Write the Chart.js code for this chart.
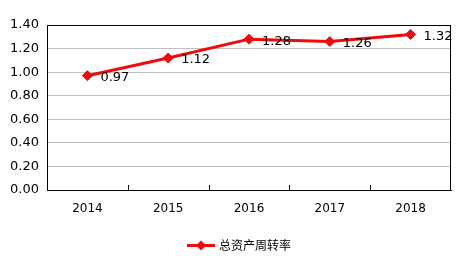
<!DOCTYPE html>
<html><head><meta charset="utf-8">
<script src="https://cdn.jsdelivr.net/npm/chart.js@4/dist/chart.umd.min.js"></script>
<style>html,body{margin:0;padding:0;background:#fff}#wrap{width:458px;height:258px}</style>
</head><body><div id="wrap"><canvas id="c"></canvas></div>
<script>
const categories = ['2014','2015','2016','2017','2018'];
const turnover = [0.97, 1.12, 1.28, 1.26, 1.32];
const seriesName = '总资产周转率';
const yTicks = [0, 0.2, 0.4, 0.6, 0.8, 1.0, 1.2, 1.4];

const RED = '#f00a0a';
const decor = {
  id: 'decor',
  afterDatasetsDraw(chart) {
    const ctx = chart.ctx, a = chart.chartArea, xs = chart.scales.x;
    ctx.save();
    // box
    ctx.strokeStyle = '#000'; ctx.lineWidth = 1;
    ctx.strokeRect(Math.round(a.left) + 0.5, Math.round(a.top) + 0.5, Math.round(a.right - a.left) - 1, Math.round(a.bottom - a.top));
    // inner ticks between categories
    for (let i = 0; i < categories.length - 1; i++) {
      const x = Math.round((xs.getPixelForValue(i) + xs.getPixelForValue(i + 1)) / 2) + 0.5;
      ctx.beginPath(); ctx.moveTo(x, a.bottom); ctx.lineTo(x, a.bottom - 5); ctx.stroke();
    }
    // data labels
    const meta = chart.getDatasetMeta(0);
    ctx.fillStyle = '#000';
    ctx.font = '13px "DejaVu Sans"';
    ctx.textAlign = 'left'; ctx.textBaseline = 'middle';
    meta.data.forEach((p, i) => {
      ctx.fillText(turnover[i].toFixed(2), p.x + 13, p.y + 2);
    });
    ctx.restore();
  },
  afterDraw(chart) {
    // legend (bottom, centred as in reference)
    const ctx = chart.ctx;
    const x0 = 187, x1 = 215, cy = 245.5;
    ctx.save();
    ctx.strokeStyle = RED; ctx.lineWidth = 3;
    ctx.beginPath(); ctx.moveTo(x0, cy); ctx.lineTo(x1, cy); ctx.stroke();
    const cx = (x0 + x1) / 2;
    ctx.fillStyle = RED;
    ctx.beginPath();
    ctx.moveTo(cx, cy - 5); ctx.lineTo(cx + 5, cy); ctx.lineTo(cx, cy + 5); ctx.lineTo(cx - 5, cy);
    ctx.closePath(); ctx.fill();
    ctx.fillStyle = '#000';
    ctx.font = '12px "Noto Sans CJK SC"';
    ctx.textAlign = 'left'; ctx.textBaseline = 'middle';
    ctx.fillText(seriesName, 219, cy);
    ctx.restore();
  }
};

new Chart(document.getElementById('c'), {
  type: 'line',
  data: {
    labels: categories,
    datasets: [{
      label: seriesName,
      data: turnover,
      borderColor: RED,
      backgroundColor: RED,
      borderWidth: 3,
      pointStyle: 'rectRot',
      pointRadius: 5,
      pointBackgroundColor: RED,
      pointBorderColor: RED,
      pointBorderWidth: 1,
      tension: 0
    }]
  },
  options: {
    responsive: true,
    maintainAspectRatio: false,
    animation: false,
    events: [],
    layout: { padding: { left: 0, right: 7, top: 25, bottom: 28 } },
    plugins: {
      tooltip: { enabled: false },
      legend: { display: false }
    },
    scales: {
      x: {
        offset: true,
        grid: { display: false, drawTicks: false },
        border: { display: true, color: '#000' },
        ticks: { color: '#000', font: { family: '"DejaVu Sans"', size: 12 }, padding: 12, maxRotation: 0 },
        afterFit(s) { s.height = 40; }
      },
      y: {
        min: 0, max: 1.4,
        afterBuildTicks(s) { s.ticks = yTicks.map(v => ({ value: v })); },
        grid: { color: '#c0c0c0', drawTicks: false },
        border: { display: true, color: '#000' },
        ticks: { color: '#000', font: { family: '"DejaVu Sans"', size: 13 }, padding: 8,
          callback: v => Number(v).toFixed(2) },
        afterFit(s) { s.width = 47; }
      }
    }
  },
  plugins: [decor]
});
</script></body></html>
